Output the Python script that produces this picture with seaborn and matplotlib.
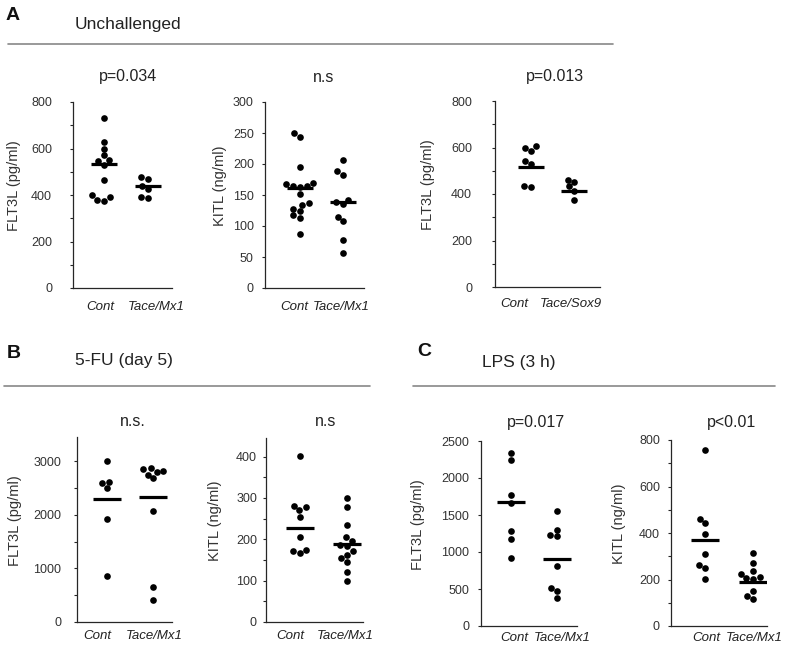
import numpy as np
import pandas as pd
import matplotlib
matplotlib.use("Agg")
import matplotlib.pyplot as plt
import matplotlib.transforms as mtrans
from matplotlib.ticker import MultipleLocator
import seaborn as sns

W, H = 787, 653

groups_mx1 = ["Cont", "Tace/Mx1"]
groups_sox9 = ["Cont", "Tace/Sox9"]

# A - unchallenged
a1_cont = [732, 630, 600, 570, 550, 545, 530, 465, 400, 390, 380, 375]
a1_tace = [478, 470, 440, 425, 392, 385]
a1_lines = [533, 437]

a2_cont = [250, 244, 195, 170, 167, 165, 165, 163, 151, 137, 134, 128, 124, 117, 113, 87]
a2_tace = [207, 188, 182, 142, 139, 135, 115, 108, 78, 56]
a2_lines = [161, 138]

a3_cont = [605, 598, 585, 540, 530, 436, 430]
a3_tace = [462, 452, 433, 413, 376]
a3_lines = [516, 413]

# B - 5-FU (day 5)
b1_cont = [3000, 2620, 2590, 2500, 1920, 850]
b1_tace = [2870, 2850, 2820, 2790, 2750, 2680, 2075, 646, 416]
b1_lines = [2292, 2323]

b2_cont = [401, 281, 277, 271, 255, 205, 175, 171, 167]
b2_tace = [299, 279, 235, 205, 195, 187, 183, 171, 163, 155, 146, 121, 100]
b2_lines = [228, 189]

# C - LPS (3 h)
c1_cont = [2342, 2243, 1769, 1656, 1286, 1182, 925]
c1_tace = [1552, 1304, 1227, 1214, 812, 519, 474, 379]
c1_lines = [1674, 903]

c2_cont = [757, 460, 442, 395, 309, 264, 250, 201]
c2_tace = [316, 270, 237, 223, 211, 205, 201, 151, 128, 115]
c2_lines = [369, 188]

sns.set_theme(style="ticks")
plt.rcParams["font.family"] = ["Liberation Sans", "DejaVu Sans"]
plt.rcParams["axes.linewidth"] = 0.9

fig = plt.figure(figsize=(W / 100, H / 100), dpi=100)
fig.patch.set_facecolor("white")


def add_panel(box, cont, tace, centres, groups, ylabel, pval, ymax, major, minor,
              xlim, title_y, tickpad, label_px, xpad, label_centres):
    left, top, right, bottom = box
    ax = fig.add_axes([left / W, 1 - bottom / H, (right - left) / W, (bottom - top) / H])
    df = pd.DataFrame({"group": [groups[0]] * len(cont) + [groups[1]] * len(tace),
                       "value": cont + tace})
    sns.swarmplot(data=df, x="group", y="value", order=groups, color="black",
                  size=4.8, linewidth=0, ax=ax)
    pos = np.arange(len(groups))
    ax.hlines(centres, pos - 0.3, pos + 0.3, color="black", lw=2.3, zorder=5)
    ax.set_xlim(*xlim)
    ax.set_ylim(0, ymax)
    ax.yaxis.set_major_locator(MultipleLocator(major))
    ax.yaxis.set_minor_locator(MultipleLocator(minor))
    ax.tick_params(axis="y", which="both", length=2, width=0.8, pad=tickpad,
                   labelsize=9, labelcolor="#333333")
    ax.tick_params(axis="x", length=0, pad=xpad, labelsize=9.5, labelcolor="#222222")
    # category labels sit a little off the dot columns in the original
    span = xlim[1] - xlim[0]
    ax.set_xticks([xlim[0] + (c - left) / (right - left) * span for c in label_centres])
    ax.set_xticklabels(groups, style="italic")
    ax.set_xlabel("")
    ax.set_ylabel(ylabel, fontsize=10.5, color="#333333")
    ax.yaxis.set_label_coords((label_px + 7 - left) / (right - left), 0.55)
    sns.despine(ax=ax)
    tr = mtrans.blended_transform_factory(ax.transData, fig.transFigure)
    ax.text(0.55, 1 - title_y / H, pval, transform=tr, ha="center", va="center",
            fontsize=11.5, color="#222222")
    return ax


add_panel((73, 102, 172, 288), a1_cont, a1_tace, a1_lines, groups_mx1, "FLT3L (pg/ml)",
          "p=0.034", 800, 200, 100, (-0.70, 1.55), 77, 13, 14, 9, (100, 156))
add_panel((265, 102, 364, 288), a2_cont, a2_tace, a2_lines, groups_mx1, "KITL (ng/ml)",
          "n.s", 300, 50, 50, (-0.81, 1.49), 77, 6, 220, 9, (294, 341))
add_panel((495, 101, 600, 287), a3_cont, a3_tace, a3_lines, groups_sox9, "FLT3L (pg/ml)",
          "p=0.013", 800, 200, 100, (-0.84, 1.60), 77, 14.5, 428, 8, (514, 571))
add_panel((77, 437, 172, 622), b1_cont, b1_tace, b1_lines, groups_mx1, "FLT3L (pg/ml)",
          "n.s.", 3450, 1000, 500, (-0.64, 1.40), 422, 9.5, 15, 6, (97, 154))
add_panel((266, 438, 363, 622), b2_cont, b2_tace, b2_lines, groups_mx1, "KITL (ng/ml)",
          "n.s", 445, 100, 50, (-0.72, 1.34), 422, 4.5, 215, 6, (290, 345))
add_panel((481, 441, 577, 626), c1_cont, c1_tace, c1_lines, groups_mx1, "FLT3L (pg/ml)",
          "p=0.017", 2500, 500, 500, (-0.65, 1.43), 422, 6.5, 418, 4, (514, 562))
add_panel((671, 440, 767, 626), c2_cont, c2_tace, c2_lines, groups_mx1, "KITL (ng/ml)",
          "p<0.01", 800, 200, 100, (-0.71, 1.29), 422, 6, 619, 4, (706, 754))


# section headers
def header(letter, lx, ly, title, tx, ty, x0, x1, line_y):
    fig.text(lx / W, 1 - ly / H, letter, fontsize=14, fontweight="bold",
             ha="center", va="center", color="#111111")
    fig.text(tx / W, 1 - ty / H, title, fontsize=12.5, ha="left", va="center",
             color="#222222")
    fig.add_artist(plt.Line2D([x0 / W, x1 / W], [1 - line_y / H] * 2,
                              color="#888888", lw=1.2))


header("A", 13, 16, "Unchallenged", 75, 25, 8, 613, 44)
header("B", 14, 353, "5-FU (day 5)", 75, 361, 4, 370, 386)
header("C", 424, 352, "LPS (3 h)", 482, 362, 413, 775, 386)

fig.savefig("out.png", dpi=100, facecolor="white")
